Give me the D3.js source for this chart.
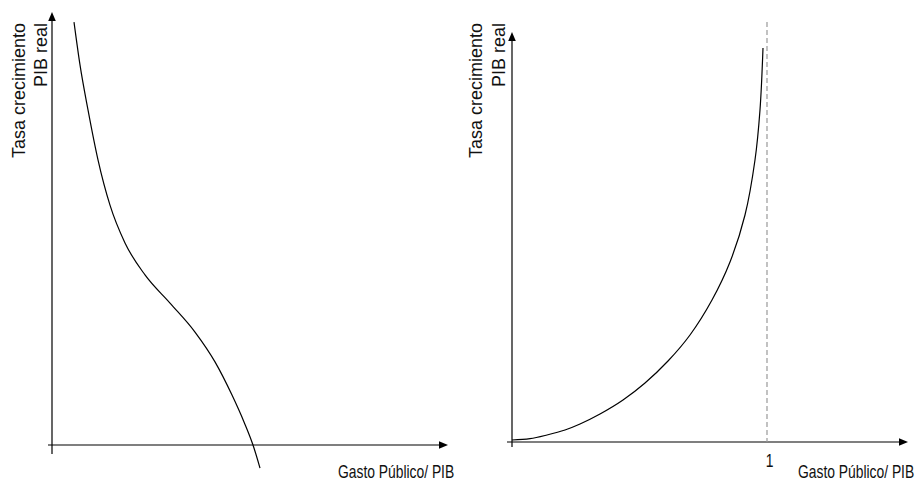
<!DOCTYPE html>
<html><head><meta charset="utf-8">
<script src="https://cdn.jsdelivr.net/npm/d3@7"></script>
<style>
html,body{margin:0;padding:0;background:#fff;}
svg{display:block;}
.lbl{font-family:"Liberation Sans",Arial,sans-serif;font-size:18px;fill:#111;}
.nar{font-family:"Liberation Sans",Arial,sans-serif;font-size:18px;fill:#111;}
</style></head>
<body>
<script>
// Left panel: decreasing curve (Gasto Público/PIB vs Tasa crecimiento PIB real)
const leftX = [5.5, 7, 9, 11.5, 14.5, 18.25, 23.25, 29.5, 35.75, 40.75, 45, 48, 50.25, 52];
const leftY = [100.7, 90.5, 79.8, 67.9, 57.1, 48.1, 40.5, 33.8, 26.9, 19.8, 11.9, 5.5, 0, -5.5];
// Right panel: increasing curve approaching asymptote at 1
const rightX = [0, 0.0706, 0.1373, 0.2078, 0.2667, 0.3451, 0.4353, 0.5216, 0.6118, 0.698, 0.7843, 0.8549, 0.9137, 0.9529, 0.9725, 0.9843];
const rightY = [0.48, 0.79, 1.68, 2.88, 4.32, 6.71, 10.07, 14.15, 19.42, 25.66, 34.05, 43.17, 54.44, 67.63, 79.62, 94.48];
const rightTicks = [1];
const yLabel = ["Tasa crecimiento", "PIB real"];
const xLabel = "Gasto Público/ PIB";

const W = 918, H = 483;
const svg = d3.select("body").append("svg").attr("width", W).attr("height", H);

function arrow(g, x, y, dir) {
  const L = 9, h = 3.8;
  let pts;
  if (dir === "up") pts = [[x, y], [x - h, y + L], [x + h, y + L]];
  else pts = [[x, y], [x - L, y - h], [x - L, y + h]];
  g.append("path").attr("d", "M" + pts.map(p => p.join(",")).join("L") + "Z").attr("fill", "#000");
}
// condensed label: regular font squeezed horizontally
function xText(g, x, y, txt) {
  g.append("text").attr("class", "nar")
    .attr("transform", `translate(${x},${y}) scale(0.77,1)`).text(txt);
}

// ---------- Left panel ----------
const xl = d3.scaleLinear().domain([0, 100]).range([52, 452]);
const yl = d3.scaleLinear().domain([0, 100]).range([445, 25]);
const gl = svg.append("g");
gl.append("line").attr("x1", xl(0)).attr("x2", xl(0)).attr("y1", yl(0) + 9).attr("y2", 20)
  .attr("stroke", "#000").attr("stroke-width", 1.2);
arrow(gl, xl(0), 12, "up");
gl.append("line").attr("x1", xl(0) - 4).attr("x2", 440).attr("y1", yl(0)).attr("y2", yl(0))
  .attr("stroke", "#000").attr("stroke-width", 1.2);
arrow(gl, 448, yl(0), "right");
gl.append("path").datum(leftX.map((v, i) => [v, leftY[i]]))
  .attr("d", d3.line().x(d => xl(d[0])).y(d => yl(d[1])).curve(d3.curveMonotoneX))
  .attr("fill", "none").attr("stroke", "#000").attr("stroke-width", 1.2);
gl.append("text").attr("class", "lbl").attr("transform", "translate(25,23) rotate(-90)")
  .attr("text-anchor", "end").text(yLabel[0]);
gl.append("text").attr("class", "lbl").attr("transform", "translate(47,23) rotate(-90)")
  .attr("text-anchor", "end").text(yLabel[1]);
xText(gl, 338, 478, xLabel);

// ---------- Right panel ----------
const xr = d3.scaleLinear().domain([0, 1]).range([512, 767]);
const yr = d3.scaleLinear().domain([0, 100]).range([442, 25]);
const gr = svg.append("g");
gr.append("line").attr("x1", xr(0)).attr("x2", xr(0)).attr("y1", yr(0) + 5).attr("y2", 40)
  .attr("stroke", "#000").attr("stroke-width", 1.2);
arrow(gr, xr(0), 32, "up");
gr.append("line").attr("x1", xr(0) - 5).attr("x2", 900).attr("y1", yr(0)).attr("y2", yr(0))
  .attr("stroke", "#000").attr("stroke-width", 1.2);
arrow(gr, 908, yr(0), "right");
// dashed asymptote
gr.append("line").attr("x1", xr(1)).attr("x2", xr(1)).attr("y1", 22).attr("y2", yr(0))
  .attr("stroke", "#999").attr("stroke-width", 1.2).attr("stroke-dasharray", "5,3");
gr.append("path").datum(rightX.map((v, i) => [v, rightY[i]]))
  .attr("d", d3.line().x(d => xr(d[0])).y(d => yr(d[1])).curve(d3.curveCatmullRom.alpha(0.5)))
  .attr("fill", "none").attr("stroke", "#000").attr("stroke-width", 1.2);
const ax = gr.append("g").attr("transform", "translate(0,455)")
  .call(d3.axisBottom(xr).tickValues(rightTicks).tickSize(0).tickFormat(d3.format("d")));
ax.select(".domain").remove();
ax.selectAll("text").attr("dy", null).attr("y", 0).attr("x", 0)
  .attr("transform", "translate(2,12) scale(0.77,1)")
  .style("font-family", '"Liberation Sans",Arial,sans-serif').style("font-size", "18px")
  .attr("fill", "#111");
gr.append("text").attr("class", "lbl").attr("transform", "translate(482,23) rotate(-90)")
  .attr("text-anchor", "end").text(yLabel[0]);
gr.append("text").attr("class", "lbl").attr("transform", "translate(505,23) rotate(-90)")
  .attr("text-anchor", "end").text(yLabel[1]);
xText(gr, 798, 478, xLabel);
</script>
</body></html>
